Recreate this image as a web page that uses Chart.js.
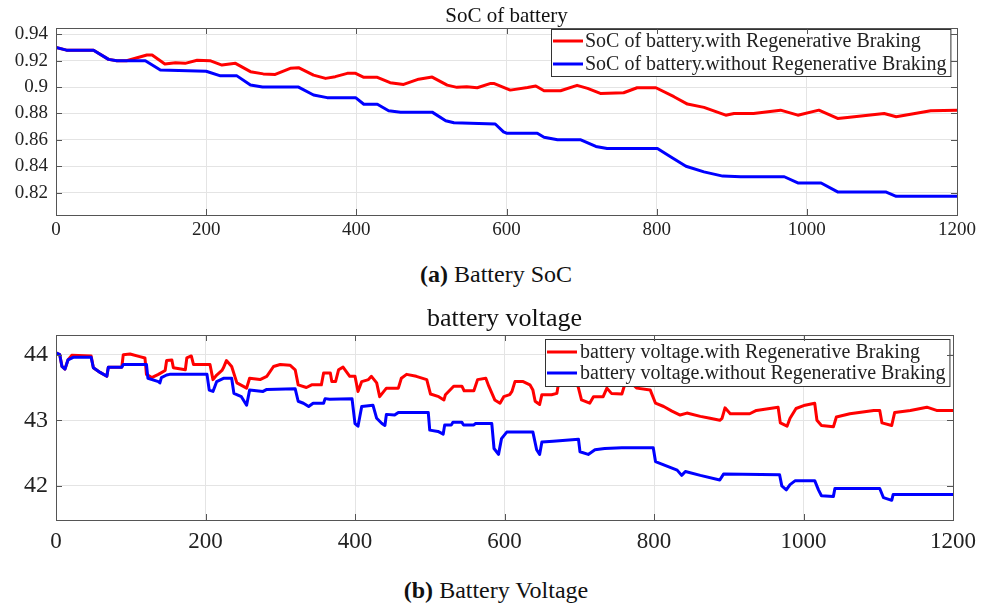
<!DOCTYPE html>
<html>
<head>
<meta charset="utf-8">
<script src="https://cdn.jsdelivr.net/npm/chart.js@4.4.1/dist/chart.umd.min.js"></script>
<style>
  body { margin: 0; background: #fff; width: 992px; height: 604px; position: relative; overflow: hidden; }
  .box { position: absolute; left: 0; width: 992px; }
  .cap { position: absolute; left: 0; width: 992px; text-align: center; font-family: 'Liberation Serif', serif; font-size: 24px; line-height: 28px; color: #111; }
</style>
</head>
<body>
<div class="box" style="top:0;height:250px"><canvas id="socChart"></canvas></div>
<div class="cap" style="top:260px"><b>(a)</b> Battery SoC</div>
<div class="box" style="top:300px;height:260px"><canvas id="voltChart"></canvas></div>
<div class="cap" style="top:576px"><b>(b)</b> Battery Voltage</div>

<script>
// x ticks shared by both plots
const timeTicks = [0, 200, 400, 600, 800, 1000, 1200]
const socTicks = [0.82, 0.84, 0.86, 0.88, 0.9, 0.92, 0.94]
const voltTicks = [42, 43, 44]

const seriesNames = ['with Regenerative Braking', 'without Regenerative Braking']

// SoC with regenerative braking
const socWithX = [0, 14, 50, 70, 81, 94, 121, 128, 145, 159, 172, 188, 205, 221, 239, 259, 276, 292, 312, 323, 343, 359, 372, 388, 399, 410, 428, 445, 463, 483, 501, 521, 534, 547, 561, 579, 583, 605, 628, 639, 650, 672, 694, 708, 725, 756, 774, 799, 823, 841, 863, 892, 903, 929, 965, 988, 1016, 1041, 1054, 1103, 1119, 1165, 1200]
const socWithY = [0.930, 0.928, 0.928, 0.921, 0.920, 0.920, 0.9243, 0.9243, 0.9175, 0.9185, 0.918, 0.9203, 0.920, 0.9167, 0.918, 0.9117, 0.910, 0.9096, 0.9142, 0.9147, 0.9091, 0.9066, 0.9079, 0.9104, 0.9104, 0.9074, 0.9074, 0.9033, 0.902, 0.906, 0.9076, 0.9015, 0.8998, 0.9003, 0.8995, 0.9028, 0.9028, 0.8977, 0.8997, 0.9008, 0.8972, 0.8972, 0.9013, 0.899, 0.8952, 0.8957, 0.8995, 0.8995, 0.8927, 0.8871, 0.8846, 0.8787, 0.880, 0.880, 0.8825, 0.8787, 0.8825, 0.8762, 0.877, 0.880, 0.8775, 0.882, 0.8825]

// SoC without regenerative braking
const socWithoutX = [0, 14, 50, 70, 81, 119, 139, 200, 219, 241, 259, 275, 323, 343, 361, 399, 410, 428, 443, 459, 501, 519, 530, 585, 596, 600, 641, 650, 668, 699, 719, 734, 801, 819, 839, 863, 888, 912, 970, 988, 1019, 1041, 1105, 1119, 1200]
const socWithoutY = [0.930, 0.928, 0.928, 0.921, 0.920, 0.920, 0.913, 0.912, 0.9085, 0.9085, 0.9015, 0.900, 0.900, 0.894, 0.892, 0.892, 0.887, 0.887, 0.882, 0.881, 0.881, 0.8745, 0.873, 0.872, 0.866, 0.865, 0.865, 0.862, 0.860, 0.860, 0.855, 0.8535, 0.8535, 0.847, 0.840, 0.8357, 0.8325, 0.832, 0.832, 0.8273, 0.8273, 0.8205, 0.8205, 0.8172, 0.8172]

// voltage with regenerative braking
const voltWithX = [0, 5, 8, 12, 16, 21, 47, 50, 59, 68, 70, 88, 90, 99, 112, 119, 121, 128, 137, 146, 148, 155, 157, 173, 175, 181, 184, 206, 210, 215, 222, 224, 228, 235, 242, 255, 259, 273, 282, 291, 300, 313, 320, 324, 335, 342, 355, 358, 367, 369, 374, 378, 384, 393, 400, 404, 409, 418, 422, 429, 433, 442, 458, 462, 469, 482, 496, 501, 512, 519, 521, 532, 543, 546, 559, 564, 575, 579, 587, 594, 599, 607, 610, 614, 625, 634, 638, 641, 647, 650, 663, 670, 672, 680, 695, 699, 703, 714, 719, 732, 737, 743, 757, 761, 768, 777, 795, 802, 813, 824, 835, 844, 862, 875, 888, 891, 895, 902, 928, 937, 966, 969, 978, 982, 990, 1002, 1015, 1018, 1024, 1040, 1044, 1062, 1094, 1102, 1105, 1118, 1122, 1143, 1165, 1178, 1200]
const voltWithY = [44.03, 44.0, 43.82, 43.78, 43.92, 43.99, 43.98, 43.80, 43.73, 43.67, 43.81, 43.81, 44.0, 44.01, 43.97, 43.95, 43.70, 43.65, 43.70, 43.76, 43.91, 43.92, 43.80, 43.77, 43.95, 43.98, 43.85, 43.85, 43.62, 43.69, 43.76, 43.80, 43.91, 43.82, 43.57, 43.49, 43.64, 43.62, 43.67, 43.82, 43.85, 43.84, 43.77, 43.54, 43.50, 43.54, 43.54, 43.72, 43.72, 43.59, 43.59, 43.77, 43.81, 43.67, 43.67, 43.44, 43.59, 43.62, 43.67, 43.57, 43.36, 43.49, 43.49, 43.64, 43.70, 43.67, 43.62, 43.40, 43.36, 43.31, 43.39, 43.52, 43.52, 43.45, 43.45, 43.62, 43.64, 43.52, 43.31, 43.26, 43.36, 43.39, 43.44, 43.59, 43.59, 43.54, 43.46, 43.29, 43.24, 43.39, 43.39, 43.41, 43.54, 43.62, 43.64, 43.49, 43.31, 43.26, 43.36, 43.36, 43.49, 43.41, 43.40, 43.55, 43.59, 43.49, 43.46, 43.26, 43.21, 43.14, 43.08, 43.11, 43.06, 43.03, 43.0, 43.03, 43.19, 43.10, 43.10, 43.15, 43.20, 42.96, 42.91, 43.03, 43.18, 43.23, 43.26, 43.0, 42.92, 42.90, 43.05, 43.10, 43.15, 43.15, 42.96, 42.92, 43.12, 43.15, 43.20, 43.15, 43.15]

// voltage without regenerative braking
const voltWithoutX = [0, 5, 8, 12, 16, 23, 47, 50, 59, 68, 70, 88, 90, 121, 123, 137, 139, 141, 148, 152, 202, 205, 210, 215, 224, 235, 238, 248, 255, 259, 277, 282, 320, 324, 331, 338, 344, 358, 360, 366, 396, 400, 404, 409, 424, 429, 436, 440, 442, 453, 458, 498, 500, 511, 518, 520, 529, 531, 543, 545, 559, 561, 583, 586, 592, 596, 603, 638, 643, 647, 650, 665, 699, 701, 712, 721, 734, 757, 799, 802, 813, 831, 837, 842, 862, 888, 893, 968, 971, 977, 982, 989, 1015, 1020, 1024, 1040, 1042, 1102, 1107, 1118, 1120, 1200]
const voltWithoutY = [44.03, 44.0, 43.82, 43.78, 43.92, 43.96, 43.96, 43.80, 43.73, 43.67, 43.81, 43.81, 43.85, 43.85, 43.64, 43.59, 43.57, 43.65, 43.69, 43.70, 43.70, 43.46, 43.44, 43.59, 43.64, 43.64, 43.41, 43.36, 43.23, 43.46, 43.44, 43.47, 43.48, 43.29, 43.26, 43.21, 43.26, 43.26, 43.33, 43.32, 43.33, 42.95, 42.91, 43.21, 43.23, 43.03, 42.95, 42.92, 43.09, 43.08, 43.12, 43.12, 42.85, 42.83, 42.79, 42.93, 42.93, 42.97, 42.97, 42.93, 42.93, 42.95, 42.95, 42.57, 42.48, 42.72, 42.82, 42.82, 42.55, 42.48, 42.67, 42.68, 42.71, 42.52, 42.48, 42.55, 42.57, 42.58, 42.58, 42.37, 42.32, 42.24, 42.16, 42.22, 42.16, 42.09, 42.18, 42.17, 42.0, 41.94, 42.02, 42.08, 42.08, 41.94, 41.85, 41.84, 41.96, 41.96, 41.82, 41.78, 41.87, 41.87]

const toPoints = (xs, ys) => xs.map((x, i) => ({ x: x, y: ys[i] }))

Chart.defaults.font.family = "'Liberation Serif', 'Times New Roman', serif"
Chart.defaults.color = '#222'

// legend box drawn inside the plot (matlab style)
const boxLegend = {
  id: 'boxLegend',
  afterDatasetsDraw(chart, args, opts) {
    const { ctx, chartArea } = chart
    const sets = chart.data.datasets
    ctx.save()
    ctx.font = opts.fontSize + "px 'Liberation Serif', serif"
    const textW = Math.max(...sets.map(d => ctx.measureText(d.label).width))
    const w = 2 + opts.lineLen + opts.gap + textW + 4
    const h = opts.rowH * sets.length + opts.padY * 2
    const right = chartArea.right - opts.right
    const left = Math.round(right - w)
    const top = Math.round(chartArea.top + opts.top)
    ctx.fillStyle = '#fff'
    ctx.fillRect(left, top, w, h)
    ctx.strokeStyle = '#333'
    ctx.lineWidth = 1
    ctx.strokeRect(left + 0.5, top + 0.5, w, h)
    sets.forEach((d, i) => {
      const y = top + opts.padY + opts.rowH * (i + 0.5)
      ctx.strokeStyle = d.borderColor
      ctx.lineWidth = 3
      ctx.beginPath()
      ctx.moveTo(left + 2, y)
      ctx.lineTo(left + 2 + opts.lineLen, y)
      ctx.stroke()
      ctx.fillStyle = '#222'
      ctx.textBaseline = 'middle'
      ctx.fillText(d.label, left + 2 + opts.lineLen + opts.gap, y + 1)
    })
    ctx.restore()
  }
}

// axes box with small inward ticks
const axesBox = {
  id: 'axesBox',
  afterDraw(chart) {
    const { ctx, chartArea: a, scales } = chart
    ctx.save()
    ctx.strokeStyle = '#555'
    ctx.lineWidth = 1
    ctx.strokeRect(a.left + 0.5, a.top + 0.5, a.right - a.left, a.bottom - a.top)
    ctx.beginPath()
    scales.x.ticks.forEach(t => {
      const px = Math.round(scales.x.getPixelForValue(t.value)) + 0.5
      ctx.moveTo(px, a.bottom); ctx.lineTo(px, a.bottom - 6)
      ctx.moveTo(px, a.top); ctx.lineTo(px, a.top + 6)
    })
    scales.y.ticks.forEach(t => {
      const py = Math.round(scales.y.getPixelForValue(t.value)) + 0.5
      ctx.moveTo(a.left, py); ctx.lineTo(a.left + 6, py)
      ctx.moveTo(a.right, py); ctx.lineTo(a.right - 6, py)
    })
    ctx.stroke()
    ctx.restore()
  }
}

function makeChart(id, cfg) {
  return new Chart(document.getElementById(id), {
    type: 'line',
    data: {
      datasets: [
        { label: cfg.prefix + seriesNames[0], data: toPoints(cfg.wx, cfg.wy), borderColor: '#ff0000', order: 1 },
        { label: cfg.prefix + seriesNames[1], data: toPoints(cfg.nx, cfg.ny), borderColor: '#0000ff', order: 0 }
      ]
    },
    options: {
      responsive: true,
      maintainAspectRatio: false,
      animation: false,
      elements: {
        point: { radius: 0 },
        line: { borderWidth: 3, tension: 0, borderJoinStyle: 'round' }
      },
      layout: { padding: { left: 0, right: cfg.padRight, top: 0, bottom: 0 } },
      plugins: {
        legend: { display: false },
        tooltip: { enabled: false },
        title: {
          display: true,
          text: cfg.title,
          fullSize: false,
          color: '#111',
          font: { size: cfg.titleSize, weight: 'normal', lineHeight: 1 },
          padding: cfg.titlePad
        },
        boxLegend: cfg.legend
      },
      scales: {
        x: {
          type: 'linear',
          min: 0,
          max: 1200,
          afterBuildTicks: s => { s.ticks = timeTicks.map(v => ({ value: v })) },
          afterFit: s => { s.height = cfg.xHeight },
          grid: { color: '#e4e4e4', drawTicks: false },
          border: { display: false },
          ticks: { font: { size: cfg.xFont }, padding: cfg.xPad, maxRotation: 0, color: '#222', callback: v => String(v) }
        },
        y: {
          min: cfg.ymin,
          max: cfg.ymax,
          afterBuildTicks: s => { s.ticks = cfg.yTicks.map(v => ({ value: v })) },
          afterFit: s => { s.width = 56 },
          grid: { color: '#e4e4e4', drawTicks: false },
          border: { display: false },
          ticks: { font: { size: cfg.yFont }, padding: 8, color: '#222', callback: v => String(+v.toFixed(2)) }
        }
      }
    },
    plugins: [axesBox, boxLegend]
  })
}

makeChart('socChart', {
  prefix: 'SoC of battery.',
  title: 'SoC of battery',
  wx: socWithX, wy: socWithY, nx: socWithoutX, ny: socWithoutY,
  ymin: 0.803, ymax: 0.9448, yTicks: socTicks,
  padRight: 35, xHeight: 35, xFont: 19, xPad: 4, yFont: 19,
  titleSize: 21, titlePad: { top: 6, bottom: 1 },
  legend: { fontSize: 20, lineLen: 30, gap: 2, rowH: 23, padY: 0.5, right: 7, top: 1 }
})

makeChart('voltChart', {
  prefix: 'battery voltage.',
  title: 'battery voltage',
  wx: voltWithX, wy: voltWithY, nx: voltWithoutX, ny: voltWithoutY,
  ymin: 41.48, ymax: 44.3, yTicks: voltTicks,
  padRight: 39, xHeight: 40, xFont: 23, xPad: 8, yFont: 24,
  titleSize: 26, titlePad: { top: 6, bottom: 3 },
  legend: { fontSize: 20, lineLen: 30, gap: 3, rowH: 21, padY: 2.5, right: 4, top: 4 }
})
</script>
</body>
</html>
